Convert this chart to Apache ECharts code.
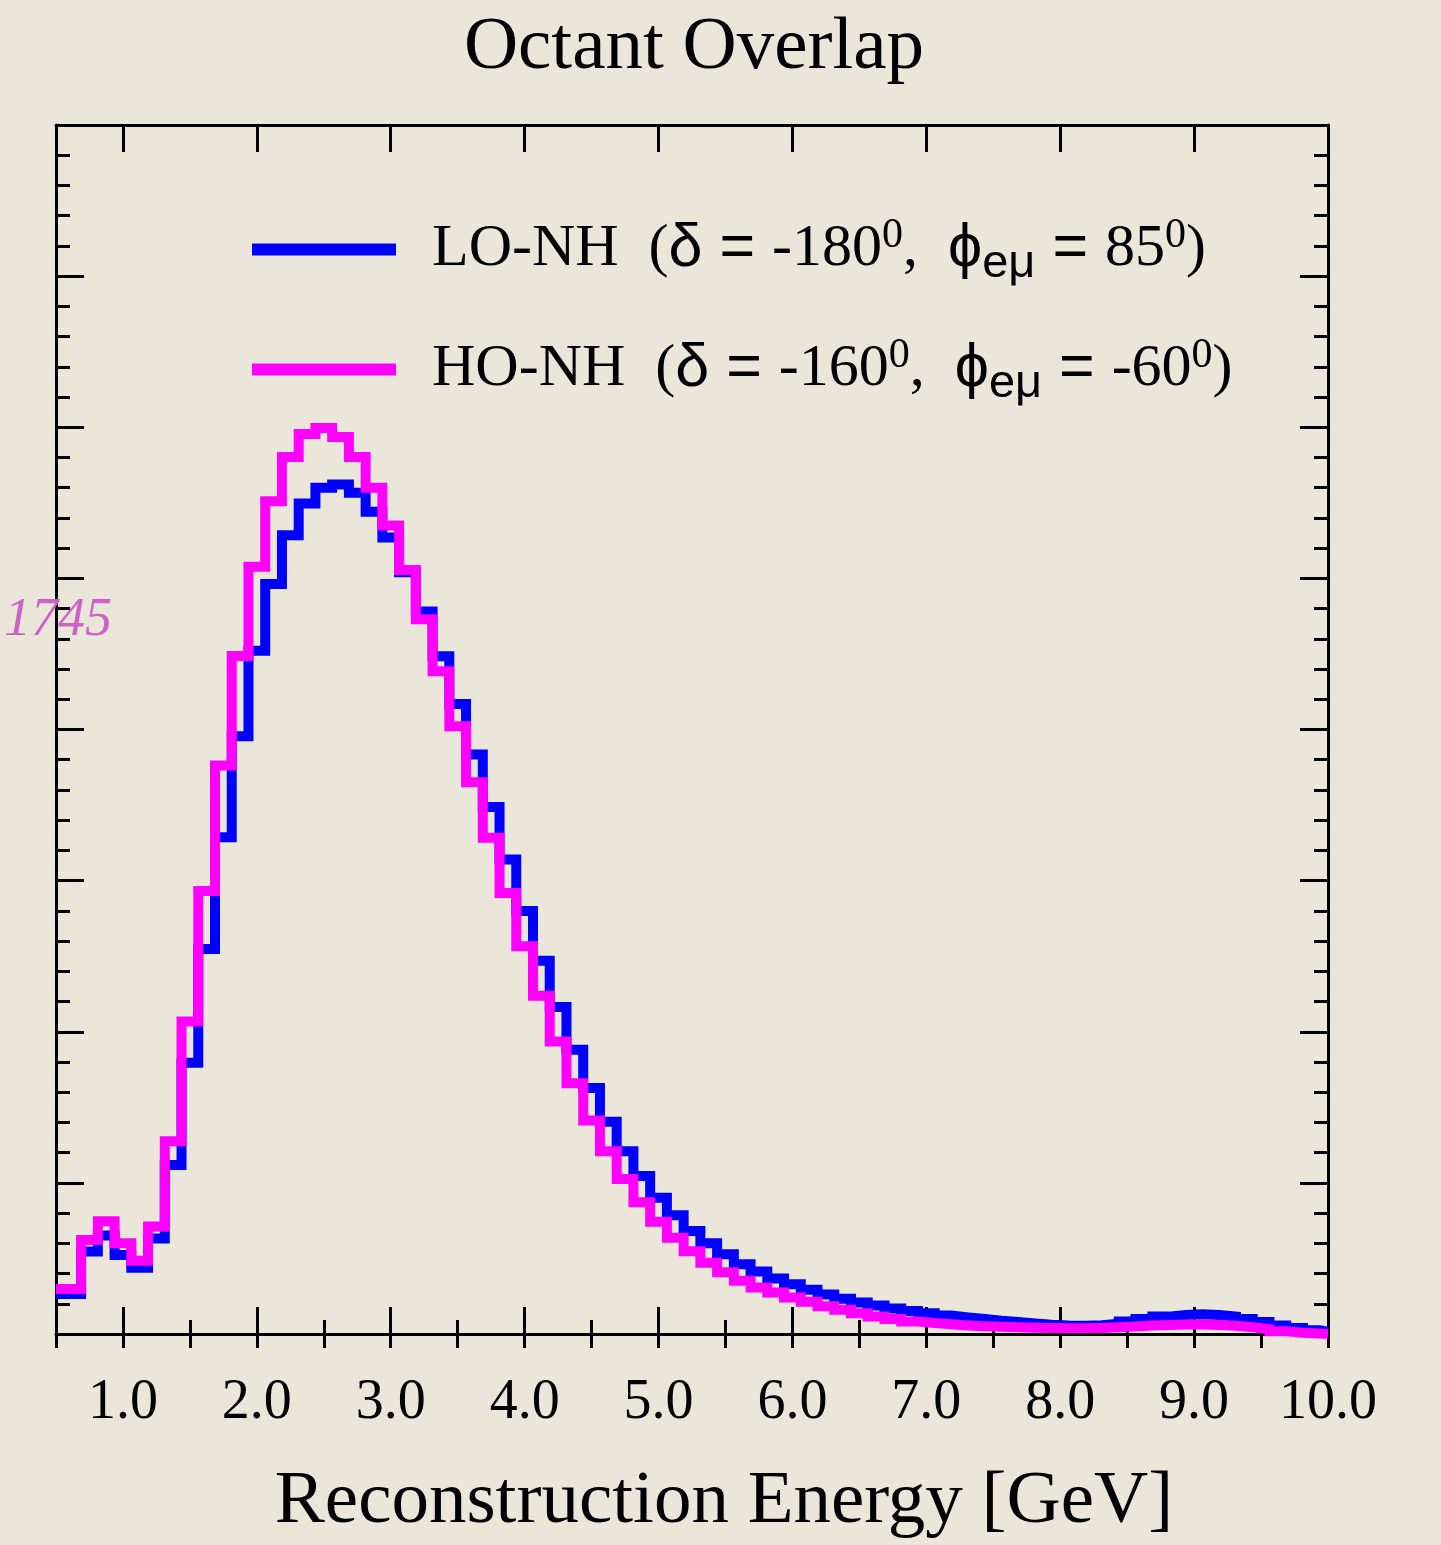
<!DOCTYPE html>
<html>
<head>
<meta charset="utf-8">
<script src="https://cdn.jsdelivr.net/npm/echarts@6/dist/echarts.min.js"></script>
<style>
  html, body { margin: 0; padding: 0; background: #ebe6da; }
  #chart { width: 1441px; height: 1545px; }
</style>
</head>
<body>
<div id="chart"></div>
<script>
// Reconstructed-energy spectra, 0.125 GeV bins (bin centres from 0.625 to 10.0 GeV)
const X_MIN = 0.5;
const X_MAX = 10.0;
const BIN_WIDTH = 0.125;
const binCenters = Array.from({ length: 76 }, (_, i) => 0.625 + BIN_WIDTH * i);

const seriesNames = ['LO-NH', 'HO-NH'];
const deltaValues = ['-180', '-160'];
const phiValues = ['85', '-60'];

// LO-NH (delta = -180, phi_emu = 85)
const loNH = [
  0.264, 0.546, 0.651, 0.523, 0.438, 0.632, 1.118, 1.795, 2.548, 3.287,
  3.955, 4.521, 4.962, 5.286, 5.495, 5.599, 5.622, 5.567, 5.441, 5.271,
  5.040, 4.781, 4.484, 4.168, 3.835, 3.487, 3.140, 2.799, 2.469, 2.163,
  1.881, 1.628, 1.404, 1.210, 1.045, 0.902, 0.785, 0.682, 0.600, 0.528,
  0.462, 0.414, 0.368, 0.330, 0.293, 0.262, 0.234, 0.209, 0.188, 0.168,
  0.152, 0.138, 0.123, 0.110, 0.099, 0.088, 0.080, 0.070, 0.062, 0.057,
  0.055, 0.058, 0.068, 0.082, 0.100, 0.115, 0.126, 0.130, 0.126, 0.115,
  0.100, 0.080, 0.056, 0.040, 0.024, 0.015
];

// HO-NH (delta = -160, phi_emu = -60)
const hoNH = [
  0.297, 0.622, 0.746, 0.600, 0.484, 0.711, 1.275, 2.067, 2.932, 3.762,
  4.487, 5.077, 5.511, 5.803, 5.956, 5.995, 5.935, 5.803, 5.599, 5.350,
  5.055, 4.730, 4.385, 4.022, 3.651, 3.283, 2.918, 2.566, 2.239, 1.935,
  1.660, 1.413, 1.209, 1.025, 0.871, 0.743, 0.637, 0.547, 0.472, 0.409,
  0.353, 0.308, 0.275, 0.242, 0.213, 0.184, 0.160, 0.138, 0.116, 0.099,
  0.083, 0.073, 0.064, 0.057, 0.052, 0.048, 0.045, 0.042, 0.040, 0.038,
  0.038, 0.040, 0.044, 0.050, 0.056, 0.060, 0.063, 0.063, 0.060, 0.054,
  0.045, 0.032, 0.018, 0.008, 0.003, 0.000
];

const xMajorTicks = [1, 2, 3, 4, 5, 6, 7, 8, 9, 10];

const SERIF = '"Liberation Serif", "DejaVu Serif", serif';
const SANS = '"Liberation Sans", Arial, sans-serif';

// histogram outline: one point per bin lower edge (first bin opens at the axis)
function histPoints(vals) {
  const pts = vals.map((v, i) => [i === 0 ? X_MIN : binCenters[i] - BIN_WIDTH / 2, v]);
  pts.push([X_MAX, vals[vals.length - 1]]);
  return pts;
}

const axisLine = { show: true, onZero: false, lineStyle: { color: '#000', width: 3 } };

function xAxisPair(position) {
  const major = {
    type: 'value', position, min: X_MIN, max: X_MAX,
    axisLine,
    axisTick: { show: true, inside: true, length: 27, customValues: xMajorTicks,
                lineStyle: { color: '#000', width: 3 } },
    axisLabel: { show: false },
    splitLine: { show: false }
  };
  const minor = {
    type: 'value', position, min: X_MIN, max: X_MAX, interval: 0.5,
    axisLine: { show: false },
    axisTick: { show: true, inside: true, length: 14, lineStyle: { color: '#000', width: 3 } },
    axisLabel: { show: false },
    splitLine: { show: false }
  };
  return [major, minor];
}

function yAxisOf(position) {
  return {
    type: 'value', position, min: 0, max: 8, interval: 1,
    axisLine,
    axisTick: { show: true, inside: true, length: 28, lineStyle: { color: '#000', width: 3 } },
    minorTick: { show: true, splitNumber: 5, length: 14, lineStyle: { color: '#000', width: 3 } },
    axisLabel: { show: false },
    splitLine: { show: false },
    minorSplitLine: { show: false }
  };
}

const [xBottom, xBottomMinor] = xAxisPair('bottom');
const [xTop, xTopMinor] = xAxisPair('top');
xBottom.axisLabel = {
  show: true, customValues: xMajorTicks, margin: 41,
  formatter: v => Number(v).toFixed(1),
  color: '#000', fontFamily: SERIF, fontSize: 56
};
xBottom.name = 'Reconstruction Energy [GeV]';
xBottom.nameLocation = 'middle';
xBottom.nameGap = 131;
xBottom.nameTextStyle = { color: '#000', fontFamily: SERIF, fontSize: 75, padding: [0, 0, 0, 64] };

function legendLabel(name) {
  const i = seriesNames.indexOf(name);
  return '{lead|' + name + '  (}{g|\u03b4 = }{n|' + deltaValues[i] + '}{sup|0}{n|,  }' +
         '{g|\u03d5}{sub|e\u03bc}{g| = }{n|' + phiValues[i] + '}{sup|0}{n|)}';
}

const chart = echarts.init(document.getElementById('chart'), null, { renderer: 'canvas' });
chart.setOption({
  backgroundColor: 'transparent',
  animation: false,
  title: {
    text: 'Octant Overlap', left: 689, top: 6, textAlign: 'center',
    textStyle: { color: '#000', fontFamily: SERIF, fontSize: 75, fontWeight: 'normal' }
  },
  grid: { left: 56, right: 113, top: 125, bottom: 208, containLabel: false },
  xAxis: [xBottom, xBottomMinor, xTop, xTopMinor],
  yAxis: [yAxisOf('left'), yAxisOf('right')],
  legend: {
    orient: 'vertical', left: 252, top: 211, itemGap: 43, padding: 0,
    itemWidth: 144, itemHeight: 12, icon: 'rect',
    selectedMode: false,
    data: seriesNames,
    formatter: legendLabel,
    textStyle: {
      color: '#000',
      rich: {
        lead: { fontFamily: SERIF, fontSize: 60, lineHeight: 64, color: '#000', padding: [0, 0, 0, 31] },
        n: { fontFamily: SERIF, fontSize: 60, lineHeight: 64, color: '#000' },
        g: { fontFamily: SANS, fontSize: 61, lineHeight: 64, color: '#000' },
        sup: { fontFamily: SERIF, fontSize: 42, lineHeight: 64, color: '#000', padding: [0, 0, 28, 0] },
        sub: { fontFamily: SANS, fontSize: 47, lineHeight: 64, color: '#000', padding: [30, 0, 0, 0] }
      }
    }
  },
  graphic: [{
    type: 'text', left: 4, top: 594, z: 100,
    style: { text: '1745', fill: '#cc62c4', font: 'italic 54px ' + SERIF }
  }],
  series: [
    {
      name: 'LO-NH', type: 'line', step: 'end', xAxisIndex: 0, yAxisIndex: 0,
      data: histPoints(loNH), showSymbol: false, symbol: 'none', clip: false,
      color: '#0000ff',
      lineStyle: { color: '#0000ff', width: 10, cap: 'butt', join: 'miter' }
    },
    {
      name: 'HO-NH', type: 'line', step: 'end', xAxisIndex: 0, yAxisIndex: 0,
      data: histPoints(hoNH), showSymbol: false, symbol: 'none', clip: false,
      color: '#ff00ff',
      lineStyle: { color: '#ff00ff', width: 10, cap: 'butt', join: 'miter' }
    }
  ]
});
</script>
</body>
</html>
